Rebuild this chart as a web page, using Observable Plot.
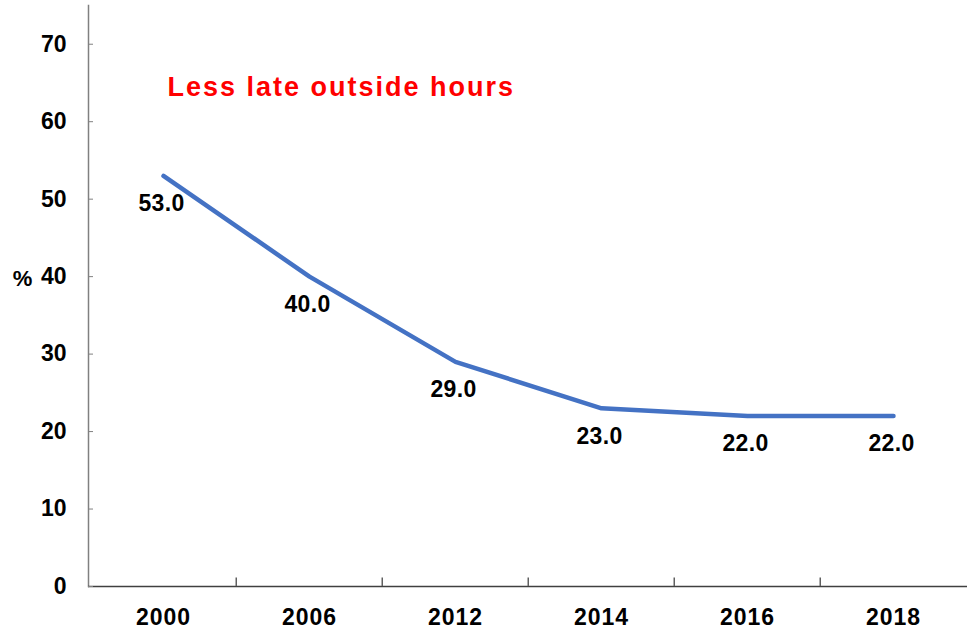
<!DOCTYPE html>
<html><head><meta charset="utf-8">
<script src="https://cdn.jsdelivr.net/npm/d3@7"></script>
<script src="https://cdn.jsdelivr.net/npm/@observablehq/plot@0.6"></script>
<style>
body{margin:0;background:#fff;overflow:hidden}
</style></head><body><div id="chart"></div>
<script>
const years = ["2000","2006","2012","2014","2016","2018"];
const values = [53.0, 40.0, 29.0, 23.0, 22.0, 22.0];
const yTicks = [0,10,20,30,40,50,60,70];
const title = "Less late outside hours";
const unitLabel = "%";

const data = years.map((year,i)=>({year, value: values[i]}));
const W=967,H=631,ML=88,MR=0,MT=5,MB=45;
const band=(W-ML-MR)/years.length;
const font = '"Liberation Sans", Arial, Helvetica, sans-serif';

const chart = Plot.plot({
  width:W,height:H,marginLeft:ML,marginRight:MR,marginTop:MT,marginBottom:MB,
  style:{fontFamily:font, fontSize:"22px", fontWeight:"bold", color:"#000", background:"#fff", overflow:"visible"},
  x:{type:"band",domain:years,padding:0,axis:null},
  y:{domain:[0,75],axis:null},
  marks:[
    Plot.frame({anchor:"left", stroke:"#808080", strokeWidth:1.5}),
    Plot.ruleY([0], {stroke:"#404040", strokeWidth:1.5}),
    Plot.ruleX(years.slice(1), {x:d=>d, y1:0, y2:1.1, dx:-band/2, stroke:"#606060", strokeWidth:1.5}),
    Plot.axisY(yTicks,{tickSize:-5, tickPadding:27, stroke:"#808080", fill:"#000", fontSize:23, fontWeight:"bold", label:null}),
    Plot.axisX({tickSize:0, tickPadding:22, fill:"#000", fontSize:23, fontWeight:"bold", label:null}),
    Plot.line(data,{x:"year",y:"value",stroke:"#4472C4",strokeWidth:4.5,strokeLinecap:"round",strokeLinejoin:"round"}),
    Plot.text(data,{x:"year",y:"value",text:d=>d.value.toFixed(1), dy:28, dx:-2, fontSize:23, fontWeight:"bold", fill:"#000", lineAnchor:"middle"}),
    Plot.text([title],{frameAnchor:"top-left", dx:79, dy:82, textAnchor:"start", lineAnchor:"middle", fill:"#ff0000", fontSize:27, fontWeight:"bold"}),
    Plot.text([unitLabel],{frameAnchor:"top-left", dx:-66, dy:273, textAnchor:"middle", lineAnchor:"middle", fill:"#000", fontSize:22, fontWeight:"bold"})
  ]
});
document.getElementById("chart").appendChild(chart);
d3.select(chart).selectAll("text").each(function(){
  const t = this.textContent;
  if (t === title) this.style.letterSpacing = "2.0px";
  else if (years.includes(t)) this.style.letterSpacing = "1px";
  else if (/\d+\.\d/.test(t)) this.style.letterSpacing = "0.3px";
});
</script></body></html>
